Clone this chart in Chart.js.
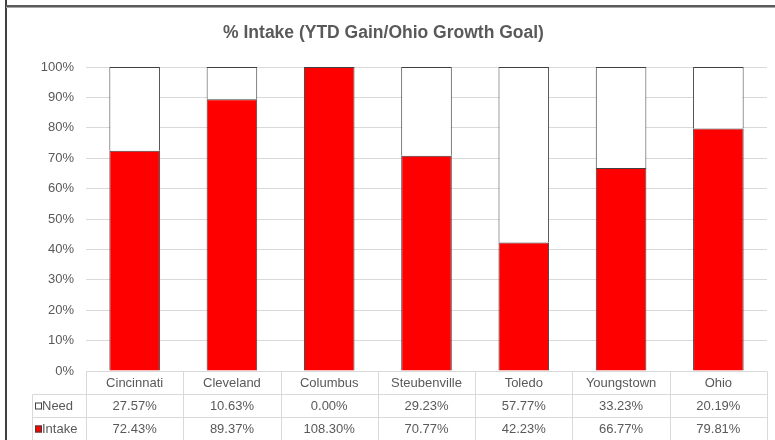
<!DOCTYPE html>
<html>
<head>
<meta charset="utf-8">
<script src="https://cdn.jsdelivr.net/npm/chart.js@4.4.0/dist/chart.umd.min.js"></script>
<style>
  body { margin: 0; background: #fff; }
  #wrap { position: relative; width: 775px; height: 440px; overflow: hidden; }
  #frameLeft { position: absolute; left: 5px; top: 0; width: 2px; height: 440px; background: #404040; }
  #frameTop { position: absolute; left: 6px; top: 5px; width: 769px; height: 2px; background: #5a5a5a; border-bottom: 1px solid #a6a6a6; }
  canvas { position: absolute; left: 0; top: 0; }
</style>
</head>
<body>
<div id="wrap">
  <canvas id="chart" width="775" height="440"></canvas>
  <div id="frameLeft"></div>
  <div id="frameTop"></div>
</div>
<script>
// -----------------------------
// Data
// -----------------------------
const categories = ["Cincinnati", "Cleveland", "Columbus", "Steubenville", "Toledo", "Youngstown", "Ohio"];
const needValues = [27.57, 10.63, 0.00, 29.23, 57.77, 33.23, 20.19];
const intakeValues = [72.43, 89.37, 108.30, 70.77, 42.23, 66.77, 79.81];
const titleText = "% Intake (YTD Gain/Ohio Growth Goal)";

// 100% stacked: each bar shown as a share of its own total
const intakeShare = intakeValues.map((v, i) => v / (v + needValues[i]) * 100);
const needShare = needValues.map((v, i) => v / (v + intakeValues[i]) * 100);

const textColor = "#595959";
const gridColor = "#d9d9d9";
const fontFamily = "'Liberation Sans', Arial, sans-serif";

// -----------------------------
// Data table under the axis
// -----------------------------
const dataTable = {
    id: "dataTable",
    afterDraw(chart) {
        const ctx = chart.ctx;
        const area = chart.chartArea;
        const xScale = chart.scales.x;
        const rowH = 23;
        const keyLeft = 32.5;
        const top = Math.round(area.bottom) + 0.5;
        const step = (area.right - area.left) / categories.length;

        ctx.save();
        ctx.strokeStyle = gridColor;
        ctx.lineWidth = 1;
        ctx.beginPath();
        // horizontal lines
        ctx.moveTo(area.left, top);
        ctx.lineTo(area.right, top);
        for (let r = 1; r <= 3; r++) {
            ctx.moveTo(keyLeft, top + rowH * r);
            ctx.lineTo(area.right, top + rowH * r);
        }
        // vertical lines
        for (let i = 0; i <= categories.length; i++) {
            const x = Math.round(area.left + step * i) + 0.5;
            ctx.moveTo(x, top);
            ctx.lineTo(x, chart.height);
        }
        ctx.moveTo(keyLeft, top + rowH);
        ctx.lineTo(keyLeft, chart.height);
        ctx.stroke();

        ctx.font = "13px " + fontFamily;
        ctx.fillStyle = textColor;
        ctx.textBaseline = "middle";

        const rows = [
            { name: "Need", values: needValues, fill: "#ffffff" },
            { name: "Intake", values: intakeValues, fill: "#ff0000" }
        ];
        rows.forEach((row, r) => {
            const yMid = top + rowH * (r + 1) + rowH / 2;
            // legend key
            ctx.fillStyle = row.fill;
            ctx.fillRect(35, yMid - 3.5, 7, 7);
            ctx.strokeStyle = "#404040";
            ctx.strokeRect(35.5, yMid - 3, 6, 6);
            ctx.fillStyle = textColor;
            ctx.textAlign = "left";
            ctx.fillText(row.name, 42, yMid);
            // values
            ctx.textAlign = "center";
            row.values.forEach((v, i) => {
                ctx.fillText(v.toFixed(2) + "%", xScale.getPixelForValue(i), yMid);
            });
        });
        ctx.restore();
    }
};

// -----------------------------
// Chart
// -----------------------------
new Chart(document.getElementById("chart"), {
    type: "bar",
    data: {
        labels: categories,
        datasets: [
            {
                label: "Intake",
                data: intakeShare,
                backgroundColor: "#ff0000",
                borderColor: "#404040",
                borderWidth: 1,
                barPercentage: 0.52,
                categoryPercentage: 1
            },
            {
                label: "Need",
                data: needShare,
                backgroundColor: "#ffffff",
                borderColor: "#404040",
                borderWidth: 1,
                barPercentage: 0.52,
                categoryPercentage: 1
            }
        ]
    },
    options: {
        responsive: false,
        animation: false,
        layout: { padding: { left: 0, right: 8, top: 23, bottom: 46 } },
        plugins: {
            legend: { display: false },
            tooltip: { enabled: false },
            title: {
                display: true,
                text: titleText,
                color: textColor,
                font: { family: fontFamily, size: 17.5, weight: "bold", lineHeight: 1.2 },
                padding: { top: 0, bottom: 23 }
            }
        },
        scales: {
            x: {
                stacked: true,
                grid: { display: false, drawTicks: false },
                border: { display: false },
                ticks: {
                    color: textColor,
                    font: { family: fontFamily, size: 13 },
                    padding: 5,
                    maxRotation: 0,
                    autoSkip: false
                },
                afterFit(scale) { scale.height = 23; }
            },
            y: {
                stacked: true,
                min: 0,
                max: 100,
                grid: { color: gridColor, drawTicks: false },
                border: { display: false },
                ticks: {
                    stepSize: 10,
                    color: textColor,
                    font: { family: fontFamily, size: 13 },
                    padding: 12,
                    callback: v => v + "%"
                },
                afterFit(scale) { scale.width = 86; }
            }
        }
    },
    plugins: [dataTable]
});
</script>
</body>
</html>
